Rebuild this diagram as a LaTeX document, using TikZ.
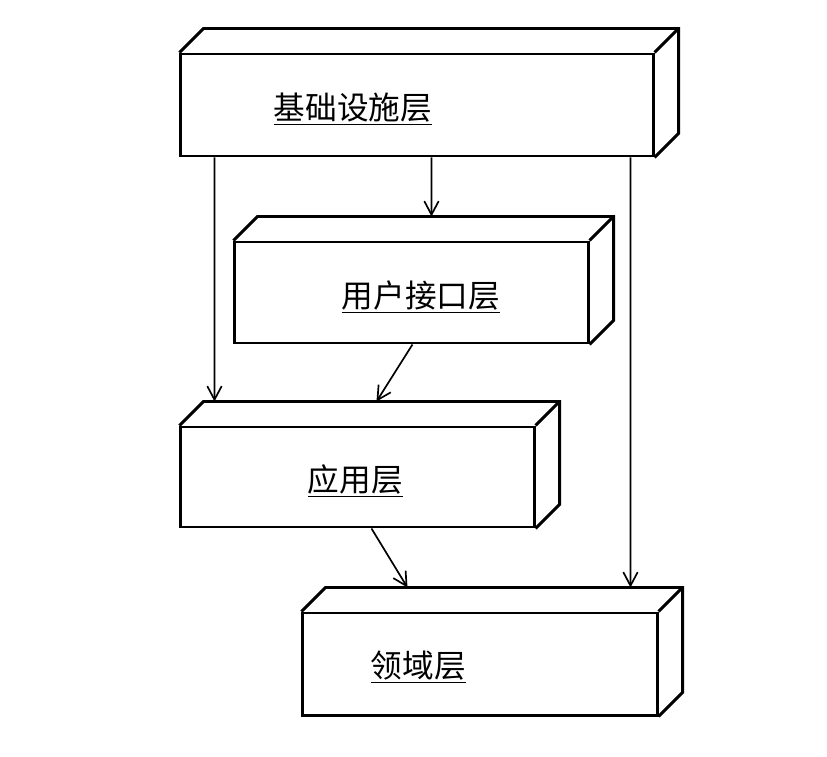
\documentclass[tikz,border=0pt]{standalone}
\usepackage{fontspec}
\usepackage{tikz}
\usetikzlibrary{arrows.meta, positioning, calc}
\newfontfamily\cjk{Noto Sans CJK SC}
\newcommand{\layerdepth}[1]{% front face node name
  \draw[face] (#1.north west) -- ++(24,-24) -- ($(#1.north east)+(24,-24)$) --
    ($(#1.south east)+(24,-24)$) -- (#1.south east);
  \draw[face] (#1.north east) -- ++(24,-24);%
}
\tikzset{
  face/.style={line width=2.1pt, black, line join=miter},
  layer/.style={rectangle, draw=black, fill=white, line width=2.1pt, inner sep=0pt},
  layername/.style={font=\cjk\fontsize{22.5}{26}\selectfont, inner sep=0pt, anchor=west},
  dep/.style={-{Straight Barb[length=3.4mm, width=3.6mm, line width=1.2pt]}, line width=1.2pt, black},
}
\begin{document}
\begin{tikzpicture}[x=0.025cm, y=-0.025cm]
  \useasboundingbox (0,0) rectangle (827,756);
  % layers
  \node[layer, minimum width=11.8cm, minimum height=2.55cm] (infra) at (417,105) {};
  \node[layer, minimum width=8.825cm, minimum height=2.525cm] (ui) at (411.5,292.5) {};
  \node[layer, minimum width=8.825cm, minimum height=2.5cm] (app) at (357.5,477) {};
  \node[layer, minimum width=8.85cm, minimum height=2.55cm] (domain) at (480,664) {};
  \layerdepth{infra}
  \layerdepth{ui}
  \layerdepth{app}
  \layerdepth{domain}
  % names
  \node[layername] (infratext) at ($(infra.west)+(94,4)$) {\underline{基础设施层}};
  \node[layername] (uitext) at ($(ui.west)+(108,4)$) {\underline{用户接口层}};
  \node[layername] (apptext) at ($(app.west)+(128,4)$) {\underline{应用层}};
  \node[layername] (domaintext) at ($(domain.west)+(69,3)$) {\underline{领域层}};
  % dependencies
  \draw[dep] ($(infra.south west)+(35,0)$) -- ($(app.north west)+(35,-24)$);
  \draw[dep] ($(infra.south west)+(252,0)$) -- ($(ui.north west)+(198,-24)$);
  \draw[dep] ($(infra.south west)+(451,0)$) -- ($(domain.north west)+(329,-24)$);
  \draw[dep] ($(ui.south west)+(179,0)$) -- ($(app.north west)+(197,-24)$);
  \draw[dep] ($(app.south west)+(192,0)$) -- ($(domain.north west)+(106,-24)$);
\end{tikzpicture}
\end{document}
